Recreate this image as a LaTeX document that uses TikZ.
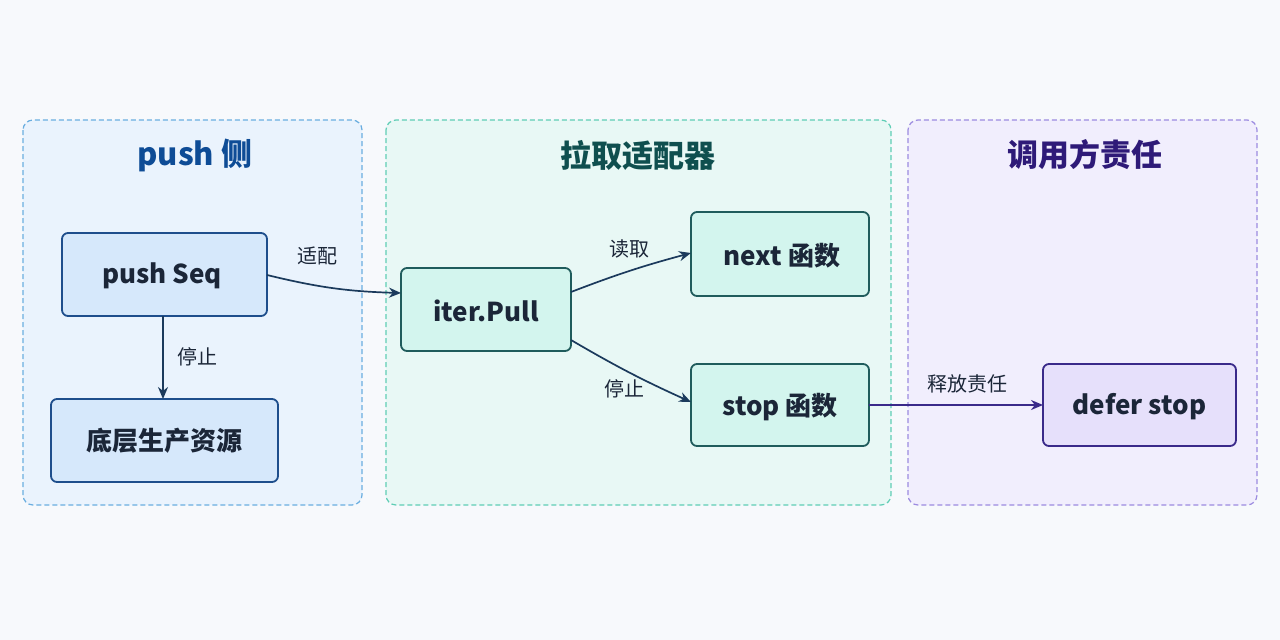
\documentclass[tikz,border=0pt]{standalone}
\usepackage{fontspec}
\setmainfont{Noto Sans CJK SC}
\usetikzlibrary{arrows.meta}
\definecolor{bgc}{HTML}{F7F9FC}
\definecolor{pbfill}{HTML}{EAF3FD}\definecolor{pbdraw}{HTML}{6AAEE0}
\definecolor{ptfill}{HTML}{E8F8F5}\definecolor{ptdraw}{HTML}{5FCDB5}
\definecolor{ppfill}{HTML}{F1EEFD}\definecolor{ppdraw}{HTML}{9C8BE0}
\definecolor{nbfill}{HTML}{D6E8FB}\definecolor{nbdraw}{HTML}{1E4E8C}
\definecolor{ntfill}{HTML}{D3F5EE}\definecolor{ntdraw}{HTML}{1F5C5C}
\definecolor{npfill}{HTML}{E6E0FB}\definecolor{npdraw}{HTML}{3A2A8A}
\definecolor{tb}{HTML}{0E4C96}\definecolor{tt}{HTML}{0F4F4F}\definecolor{tp}{HTML}{2E1A78}
\definecolor{txt}{HTML}{1B2638}\definecolor{arr}{HTML}{1B3A5C}
\tikzset{x=1pt,y=-1pt,
 panel/.style={draw=#1,dashed,line width=1.2pt,rounded corners=10pt,dash pattern=on 5pt off 3pt},
 box/.style={draw=#1,line width=1.8pt,rounded corners=6pt,font=\fontsize{26}{30}\selectfont\bfseries,text=txt},
 ttl/.style={font=\fontsize{31}{36}\selectfont\bfseries},
 lab/.style={font=\fontsize{20}{23}\selectfont,text=txt},
 con/.style={draw=arr,line width=1.7pt,-{Stealth[length=12pt,width=10pt]}}}
\begin{document}
\begin{tikzpicture}
\fill[bgc] (0,0) rectangle (1280,640);
\useasboundingbox (0,0) rectangle (1280,640);
\filldraw[fill=pbfill,panel=pbdraw] (23,120) rectangle (362,505);
\filldraw[fill=ptfill,panel=ptdraw] (386,120) rectangle (891,505);
\filldraw[fill=ppfill,panel=ppdraw] (908,120) rectangle (1257,505);
\node[ttl,text=tb] (t1) at (195,155) {push 侧};
\node[ttl,text=tt] (t2) at (638,155) {拉取适配器};
\node[ttl,text=tp] (t3) at (1085,155) {调用方责任};
\filldraw[fill=nbfill,box=nbdraw] (62,233) rectangle (267,316);
\node[box=none,draw=none] (ps) at (162,276) {push Seq};
\filldraw[fill=nbfill,box=nbdraw] (51,399) rectangle (278,482);
\node[box=none,draw=none] (dc) at (164.5,441) {底层生产资源};
\filldraw[fill=ntfill,box=ntdraw] (401,268) rectangle (571,351);
\node[box=none,draw=none] (ip) at (486,311) {iter.Pull};
\filldraw[fill=ntfill,box=ntdraw] (691,212) rectangle (869,296);
\node[box=none,draw=none] (nx) at (782,256) {next 函数};
\filldraw[fill=ntfill,box=ntdraw] (691,364) rectangle (869,446);
\node[box=none,draw=none] (st) at (780,407) {stop 函数};
\filldraw[fill=npfill,box=npdraw] (1043,364) rectangle (1236,446);
\node[box=none,draw=none] (df) at (1139.5,407) {defer stop};
\coordinate (a1) at (163,316); \coordinate (a2) at (163,399);
\draw[con] (a1) -- (a2);
\node[lab] (l1) at (197,357) {停止};
\coordinate (b1) at (267,275); \coordinate (b2) at (401,293);
\draw[con] (b1) to[bend right=6] (b2);
\node[lab] (l2) at (317,256) {适配};
\coordinate (c1) at (571,292); \coordinate (c2) at (691,253);
\draw[con] (c1) to[bend left=3] (c2);
\node[lab] (l3) at (629,249) {读取};
\coordinate (d1) at (571,340); \coordinate (d2) at (691,402);
\draw[con] (d1) to[bend right=3] (d2);
\node[lab] (l4) at (624,389) {停止};
\coordinate (e1) at (869,405); \coordinate (e2) at (1043,405);
\draw[con,draw=npdraw] (e1) -- (e2);
\node[lab] (l5) at (967,384) {释放责任};
\end{tikzpicture}
\end{document}
